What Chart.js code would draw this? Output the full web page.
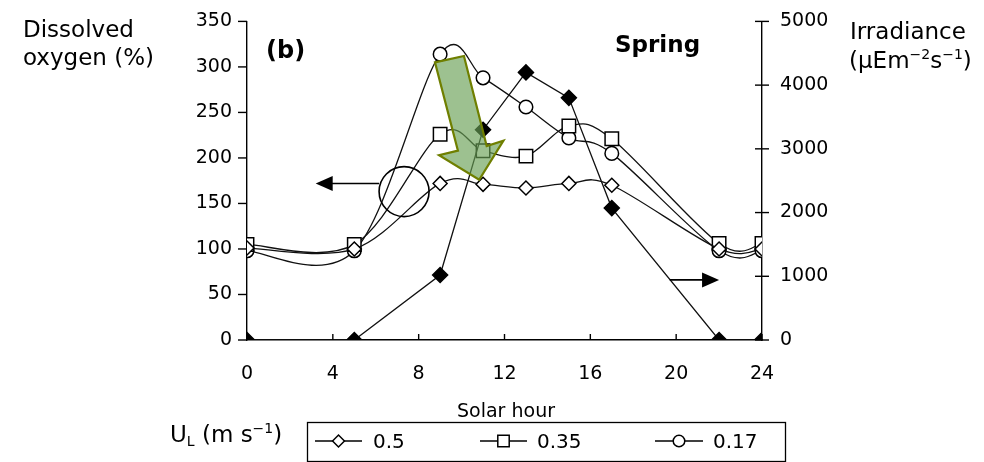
<!DOCTYPE html>
<html>
<head>
<meta charset="utf-8">
<script src="https://cdn.jsdelivr.net/npm/chart.js@4.4.1/dist/chart.umd.min.js"></script>
<style>
  html, body { margin: 0; padding: 0; background: #fff; }
  #wrap { width: 984px; height: 462px; position: relative; }
</style>
</head>
<body>
<div id="wrap"><canvas id="c" width="984" height="462"></canvas></div>
<script>
// Solar hour of each sample
const hours = [0, 5, 9, 11, 13, 15, 17, 22, 24];

// Dissolved oxygen (%) for each liquid velocity U_L (m/s)
const doUL050 = [101, 100, 172, 171, 167, 172, 170, 100, 100];
const doUL035 = [105, 105, 226, 208, 202, 235, 221, 106, 106];
const doUL017 = [98, 98, 314, 288, 256, 222, 205, 98, 98];

// Irradiance (µE m-2 s-1)
const irradiance = [0, 0, 1020, 3300, 4200, 3800, 2070, 0, 0];

// Tick labels
const hourTicks = [0, 4, 8, 12, 16, 20, 24];
const doTicks = [0, 50, 100, 150, 200, 250, 300, 350];
const irrTicks = [0, 1000, 2000, 3000, 4000, 5000];

const seriesLabels = ['0.5', '0.35', '0.17'];

const FONT = '"DejaVu Sans", sans-serif';
const toXY = arr => arr.map((v, i) => ({ x: hours[i], y: v }));
const plain = v => String(v);

function line(ctx, x1, y1, x2, y2) {
  ctx.beginPath(); ctx.moveTo(x1, y1); ctx.lineTo(x2, y2); ctx.stroke();
}

// Text made of pieces, some raised or lowered
function richText(ctx, parts, x, y, size) {
  let cx = x;
  parts.forEach(p => {
    const s = p.sup || p.sub ? Math.round(size * 0.62) : size;
    const dy = p.sup ? -size * 0.4 : (p.sub ? size * 0.18 : 0);
    ctx.font = s + 'px ' + FONT;
    ctx.fillText(p.t, cx, y + dy);
    cx += ctx.measureText(p.t).width;
  });
}

function arrowHead(ctx, tipX, tipY, dir, len, half) {
  ctx.beginPath();
  ctx.moveTo(tipX, tipY);
  ctx.lineTo(tipX - dir * len, tipY - half);
  ctx.lineTo(tipX - dir * len, tipY + half);
  ctx.closePath();
  ctx.fill();
}

// Spreadsheet-style smoothed lines: Bezier handles of one sixth of the
// chord between each point's neighbours (no distance weighting).
const uniformSpline = {
  id: 'uniformSpline',
  beforeDatasetDraw(chart, args) {
    const ds = chart.data.datasets[args.index];
    if (!ds.smooth) return;
    const pts = args.meta.data;
    const n = pts.length;
    for (let i = 0; i < n; i++) {
      const a = pts[Math.max(i - 1, 0)], p = pts[i], b = pts[Math.min(i + 1, n - 1)];
      const dx = (b.x - a.x) / 6, dy = (b.y - a.y) / 6;
      p.cp1x = p.x - dx; p.cp1y = p.y - dy;
      p.cp2x = p.x + dx; p.cp2y = p.y + dy;
    }
    args.meta.dataset._pointsUpdated = true;
  }
};

const decor = {
  id: 'decor',
  afterDatasetsDraw(chart) {
    const { ctx, scales } = chart;
    const x = scales.x, yDO = scales.yDO, yIrr = scales.yIrr;
    const X = v => x.getPixelForValue(v);
    const Y = v => yDO.getPixelForValue(v);
    ctx.save();
    ctx.strokeStyle = '#000';
    ctx.fillStyle = '#000';
    ctx.lineWidth = 1.4;

    // axis tick marks
    hourTicks.forEach(v => line(ctx, X(v), x.top, X(v), x.top - 6));
    doTicks.forEach(v => line(ctx, yDO.right, Y(v), yDO.right - 9, Y(v)));
    irrTicks.forEach(v => {
      const py = yIrr.getPixelForValue(v);
      line(ctx, yIrr.left - 7, py, yIrr.left + 7, py);
    });

    // circled curves with arrow toward the left axis
    ctx.lineWidth = 1.6;
    const cx = X(7.32), cy = Y(163);
    ctx.beginPath(); ctx.arc(cx, cy, 25, 0, Math.PI * 2); ctx.stroke();
    const ly = Y(172);
    line(ctx, cx - 25, ly, X(3.9), ly);
    arrowHead(ctx, X(3.2), ly, -1, 17, 7.5);

    // arrow toward the right axis
    const ry = Y(66);
    line(ctx, X(19.7), ry, X(21.3), ry);
    arrowHead(ctx, X(22.0), ry, 1, 17, 7.5);

    // shaded arrow across the midday peak
    const pts = [[8.76, 305], [10.11, 312], [11.17, 213], [11.95, 219], [10.82, 176], [8.95, 203], [9.83, 208]];
    ctx.beginPath();
    pts.forEach((p, i) => i ? ctx.lineTo(X(p[0]), Y(p[1])) : ctx.moveTo(X(p[0]), Y(p[1])));
    ctx.closePath();
    ctx.fillStyle = 'rgba(105, 160, 85, 0.65)';
    ctx.fill();
    ctx.strokeStyle = '#6f7f00';
    ctx.lineWidth = 2.2;
    ctx.lineJoin = 'miter';
    ctx.stroke();

    // panel labels
    ctx.fillStyle = '#000';
    ctx.textBaseline = 'alphabetic';
    ctx.font = 'bold 24px ' + FONT;
    ctx.fillText('(b)', 266, 58);
    ctx.font = 'bold 23px ' + FONT;
    ctx.fillText('Spring', 615, 52);

    // axis titles
    ctx.font = '23px ' + FONT;
    ctx.fillText('Dissolved', 23, 37);
    ctx.fillText('oxygen (%)', 23, 65);
    ctx.fillText('Irradiance', 850, 39);
    richText(ctx, [{ t: '(μEm' }, { t: '−2', sup: true }, { t: 's' }, { t: '−1', sup: true }, { t: ')' }], 849, 68, 23);

    ctx.font = '19px ' + FONT;
    ctx.textAlign = 'center';
    ctx.fillText('Solar hour', 506, 417);
    ctx.textAlign = 'left';

    // legend
    richText(ctx, [{ t: 'U' }, { t: 'L', sub: true }, { t: ' (m s' }, { t: '−1', sup: true }, { t: ')' }], 170, 442, 23);
    ctx.strokeStyle = '#000';
    ctx.lineWidth = 1.3;
    ctx.strokeRect(307.5, 422.5, 478, 39);
    const items = [
      { ds: 1, x0: 315, x1: 362, tx: 373 },
      { ds: 2, x0: 480, x1: 527, tx: 537 },
      { ds: 3, x0: 655, x1: 703, tx: 713 }
    ];
    const legY = 441;
    items.forEach(it => {
      const d = chart.data.datasets[it.ds];
      ctx.strokeStyle = '#000';
      ctx.lineWidth = 1.3;
      line(ctx, it.x0, legY, it.x1, legY);
      ctx.fillStyle = d.pointBackgroundColor;
      ctx.strokeStyle = d.pointBorderColor;
      ctx.lineWidth = d.pointBorderWidth;
      Chart.helpers.drawPoint(ctx, { pointStyle: d.pointStyle, radius: d.pointRadius * 0.85, rotation: 0, borderWidth: d.pointBorderWidth }, (it.x0 + it.x1) / 2, legY);
      ctx.fillStyle = '#000';
      ctx.font = '20px ' + FONT;
      ctx.fillText(d.label, it.tx, 448);
    });
    ctx.restore();
  }
};

const lineCommon = {
  borderColor: '#111',
  borderWidth: 1.3,
  pointBorderColor: '#000',
  pointBackgroundColor: '#fff',
  pointBorderWidth: 1.5,
  fill: false
};

const tickFont = { family: FONT, size: 19 };

new Chart(document.getElementById('c'), {
  type: 'line',
  data: {
    datasets: [
      Object.assign({}, lineCommon, {
        label: 'Irradiance', data: toXY(irradiance), yAxisID: 'yIrr', tension: 0,
        pointStyle: 'rectRot', pointRadius: 7.5, pointBackgroundColor: '#000'
      }),
      Object.assign({}, lineCommon, {
        label: seriesLabels[0], data: toXY(doUL050), yAxisID: 'yDO', tension: 0.4, smooth: true,
        pointStyle: 'rectRot', pointRadius: 7
      }),
      Object.assign({}, lineCommon, {
        label: seriesLabels[1], data: toXY(doUL035), yAxisID: 'yDO', tension: 0.4, smooth: true,
        pointStyle: 'rect', pointRadius: 9.5
      }),
      Object.assign({}, lineCommon, {
        label: seriesLabels[2], data: toXY(doUL017), yAxisID: 'yDO', tension: 0.4, smooth: true,
        pointStyle: 'circle', pointRadius: 6.8
      })
    ]
  },
  options: {
    responsive: false,
    animation: false,
    events: [],
    layout: { padding: { top: 13, left: 0, right: 0, bottom: 0 } },
    plugins: { legend: { display: false }, tooltip: { enabled: false } },
    scales: {
      x: {
        type: 'linear', min: 0, max: 24,
        afterBuildTicks: s => { s.ticks = hourTicks.map(v => ({ value: v })); },
        afterFit: s => { s.height = 122; },
        grid: { display: false },
        border: { display: true, color: '#000', width: 1.4 },
        ticks: { color: '#000', font: tickFont, padding: 15, maxRotation: 0, callback: plain }
      },
      yDO: {
        type: 'linear', position: 'left', min: 0, max: 350,
        afterBuildTicks: s => { s.ticks = doTicks.map(v => ({ value: v })); },
        afterFit: s => { s.width = 247; },
        grid: { display: false },
        border: { display: true, color: '#000', width: 1.4 },
        ticks: { color: '#000', font: tickFont, padding: 7, callback: plain }
      },
      yIrr: {
        type: 'linear', position: 'right', min: 0, max: 5000,
        afterBuildTicks: s => { s.ticks = irrTicks.map(v => ({ value: v })); },
        afterFit: s => { s.width = 222; },
        grid: { display: false },
        border: { display: true, color: '#000', width: 1.4 },
        ticks: { color: '#000', font: tickFont, padding: 10, callback: plain }
      }
    }
  },
  plugins: [uniformSpline, decor]
});
</script>
</body>
</html>
